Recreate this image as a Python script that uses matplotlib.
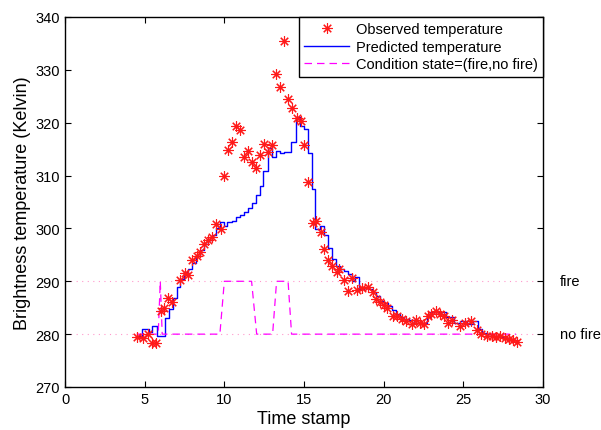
import matplotlib
matplotlib.use("Agg")
import matplotlib.pyplot as plt

plt.rcParams['font.family'] = ['Liberation Sans', 'DejaVu Sans']

# Observed temperature (time stamp, Kelvin)
obs_t = [4.50, 4.91, 5.19, 5.48, 5.69, 6.02, 6.23, 6.48, 6.74, 7.21, 7.50, 7.70,
         7.97, 8.26, 8.47, 8.72, 8.99, 9.24, 9.50, 9.76, 9.97, 10.24, 10.50, 10.73,
         10.98, 11.25, 11.50, 11.75, 11.98, 12.23, 12.50, 12.75, 13.01, 13.24, 13.49,
         13.76, 13.99, 14.26, 14.54, 14.79, 14.99, 15.26, 15.54, 15.75, 16.04, 16.25,
         16.52, 16.77, 17.05, 17.21, 17.50, 17.77, 18.04, 18.30, 18.61, 19.03, 19.30,
         19.55, 19.76, 20.01, 20.22, 20.56, 20.85, 21.12, 21.39, 21.75, 22.02, 22.27,
         22.52, 22.79, 23.00, 23.26, 23.53, 23.78, 24.05, 24.30, 24.82, 25.09, 25.51,
         25.83, 26.14, 26.46, 26.77, 27.08, 27.29, 27.60, 27.89, 28.12, 28.36]
obs_v = [279.5, 279.3, 280.0, 278.3, 278.3, 284.4, 285.0, 286.8, 286.0, 290.2, 291.5, 291.2,
         294.0, 294.8, 295.5, 297.1, 297.8, 298.4, 300.8, 299.9, 310.0, 314.8, 316.3, 319.3,
         318.6, 313.5, 314.7, 312.5, 311.4, 313.8, 316.0, 314.4, 315.7, 329.2, 326.7,
         335.5, 324.5, 322.8, 320.8, 320.4, 315.8, 308.7, 301.0, 301.4, 299.3, 296.2,
         294.1, 292.8, 291.8, 292.3, 290.3, 288.2, 290.6, 288.4, 288.7, 288.9, 287.9,
         286.7, 286.0, 285.5, 284.9, 283.4, 283.5, 282.9, 282.4, 281.9, 282.7, 282.1,
         281.9, 283.5, 283.8, 284.4, 283.8, 283.4, 282.1, 282.7, 281.5, 282.2, 282.4,
         280.8, 280.0, 279.7, 279.6, 279.4, 279.7, 279.2, 279.0, 278.8, 278.6]

# Predicted temperature (step function)
pred_t = [4.60, 4.85, 5.25, 5.45, 5.75, 6.25, 6.50, 6.75, 7.00, 7.21, 7.49, 7.74,
          8.00, 8.25, 8.50, 8.75, 9.00, 9.25, 9.50, 9.72, 9.97, 10.18, 10.46, 10.73,
          10.98, 11.25, 11.50, 11.71, 11.98, 12.23, 12.44, 12.75, 13.00, 13.25, 13.50,
          13.75, 14.20, 14.47, 14.74, 15.00, 15.26, 15.50, 15.70, 16.00, 16.25, 16.50,
          16.77, 17.00, 17.25, 17.50, 17.75, 18.00, 18.20, 18.45, 18.75, 19.00, 19.25,
          19.50, 19.75, 20.00, 20.25, 20.50, 20.75, 21.00, 21.30, 21.60, 21.90, 22.30,
          22.70, 22.90, 23.90, 24.40, 24.80, 25.20, 25.60, 25.95, 26.20, 26.50, 26.80,
          27.30, 27.70, 28.00, 28.30]
pred_v = [279.7, 281.0, 280.5, 281.5, 279.7, 283.0, 284.8, 286.8, 288.9, 290.4, 291.7, 292.4,
          293.5, 294.8, 296.0, 297.0, 297.8, 298.8, 300.0, 301.2, 300.4, 301.2, 301.5, 302.1,
          302.5, 303.2, 303.9, 304.9, 306.3, 308.0, 310.9, 315.2, 313.5, 314.7, 314.3,
          314.5, 316.3, 321.0, 319.4, 318.9, 314.3, 307.5, 299.9, 300.4, 298.8, 296.3,
          294.3, 292.9, 292.4, 292.0, 291.3, 290.1, 290.9, 288.5, 288.7, 288.5, 288.0,
          287.3, 286.3, 285.8, 285.3, 284.5, 283.8, 283.2, 282.9, 282.6, 282.2, 282.1,
          283.2, 284.1, 283.2, 282.1, 282.4, 281.9, 282.4, 281.0, 280.3, 280.0, 279.7,
          279.5, 279.2, 278.9, 278.8]

# Condition state (fire = 290, no fire = 280)
cond_t = [4.50, 5.85, 5.98, 6.10, 9.72, 10.00, 11.71, 12.03, 13.03, 13.28, 14.00, 14.22, 28.30]
cond_v = [280, 280, 290, 280, 280, 290, 290, 280, 280, 290, 290, 280, 280]

state_levels = [290, 280]
state_labels = ['fire', 'no fire']

fig = plt.figure(figsize=(6.01, 4.31), dpi=100)
ax = fig.add_axes([65 / 601, 1 - 388 / 431, 478 / 601, 370 / 431])

for lev in state_levels:
    ax.axhline(lev, color='#ff99cc', linestyle=(0, (1, 4)), linewidth=0.8, zorder=1)

ax.plot(obs_t, obs_v, linestyle='none', marker=(8, 2, 0), color='#ff1a1a',
        markersize=7.5, markeredgewidth=0.8, label='Observed temperature', zorder=3)
ax.plot(pred_t, pred_v, drawstyle='steps-post', color='blue', linewidth=1.0,
        label='Predicted temperature', zorder=2)
ax.plot(cond_t, cond_v, color='magenta', linestyle=(0, (6, 4)), linewidth=0.9,
        label='Condition state=(fire,no fire)', zorder=2)

for lev, lab in zip(state_levels, state_labels):
    ax.text(31.05, lev, lab, va='center', ha='left', fontsize=10.5, clip_on=False)

ax.set_xlim(0, 30)
ax.set_ylim(270, 340)
ax.set_xticks([0, 5, 10, 15, 20, 25, 30])
ax.set_yticks([270, 280, 290, 300, 310, 320, 330, 340])
ax.tick_params(direction='in', top=True, right=True, length=4, width=0.8, labelsize=10.5)
for s in ax.spines.values():
    s.set_linewidth(1.0)
ax.set_xlabel('Time stamp', fontsize=13, labelpad=3)
ax.set_ylabel('Brightness temperature (Kelvin)', fontsize=13, labelpad=3)

leg = ax.legend(loc='upper right', fontsize=10.5, handlelength=3.1, numpoints=1,
                borderaxespad=0.0, fancybox=False, framealpha=1, edgecolor='black',
                borderpad=0.35, labelspacing=0.25, handletextpad=0.45)
leg.get_frame().set_linewidth(1.0)

fig.savefig('out.png', dpi=100)
